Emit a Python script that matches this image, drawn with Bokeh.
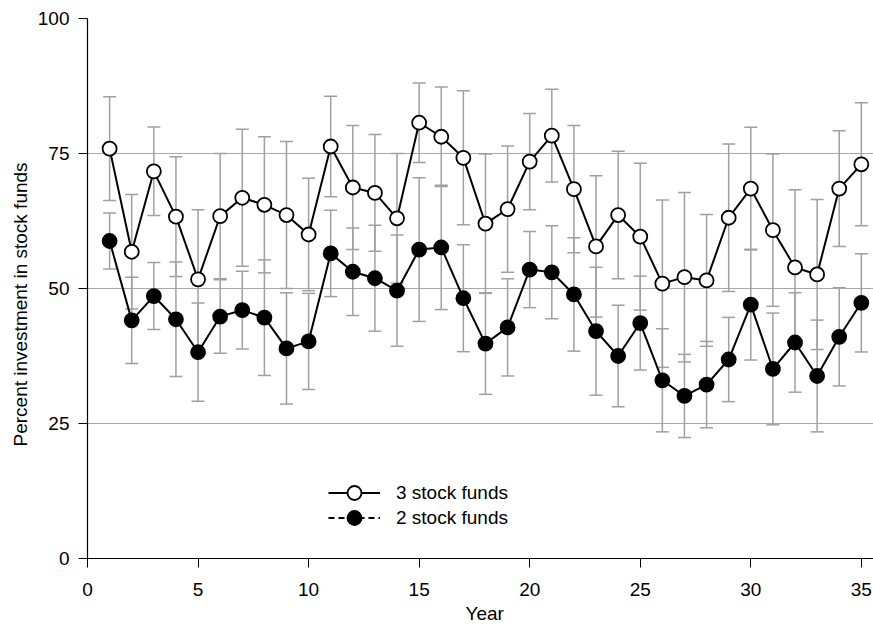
from bokeh.plotting import figure
from bokeh.models import (ColumnDataSource, Whisker, TeeHead, Range1d, FixedTicker,
                          Legend, LegendItem, Title)
from bokeh.embed import file_html
from bokeh.resources import INLINE

years = list(range(1, 36))
three_funds = [75.9, 56.8, 71.7, 63.3, 51.7, 63.4, 66.8, 65.5, 63.6, 60.0, 76.3, 68.7,
               67.7, 63.0, 80.7, 78.1, 74.2, 62.0, 64.7, 73.5, 78.3, 68.4, 57.8, 63.6,
               59.6, 50.9, 52.1, 51.5, 63.1, 68.5, 60.8, 53.9, 52.6, 68.5, 73.0]
three_err = [9.6, 10.6, 8.2, 11.1, 12.9, 11.6, 12.7, 12.6, 13.6, 10.4, 9.3, 11.5,
             10.8, 12.0, 7.35, 9.2, 12.4, 12.9, 11.7, 8.9, 8.6, 11.8, 13.1, 11.8,
             13.6, 15.5, 15.7, 12.2, 13.65, 11.35, 14.1, 14.4, 13.9, 10.7, 11.4]
two_funds = [58.8, 44.1, 48.6, 44.3, 38.2, 44.8, 46.0, 44.6, 38.9, 40.2, 56.5, 53.1,
             51.9, 49.6, 57.2, 57.6, 48.2, 39.8, 42.8, 53.5, 53.0, 48.9, 42.1, 37.5,
             43.6, 33.0, 30.1, 32.2, 36.85, 47.0, 35.1, 40.0, 33.8, 41.05, 47.35]
two_err = [5.2, 8.0, 6.2, 10.6, 9.1, 6.8, 7.2, 10.7, 10.3, 8.9, 8.0, 8.1,
           9.8, 10.3, 13.3, 11.5, 9.9, 9.4, 9.0, 7.05, 8.6, 10.5, 11.85, 9.4,
           8.7, 9.55, 7.7, 8.0, 7.8, 10.25, 10.35, 9.2, 10.35, 9.1, 9.1]
x_ticks = [0, 5, 10, 15, 20, 25, 30, 35]
y_ticks = [0, 25, 50, 75, 100]
grid_lines = [25, 50, 75]
labels = ["3 stock funds", "2 stock funds"]
x_title = "Year"
y_title = "Percent investment in stock funds"

FONT = "Liberation Sans"
FS = "19px"
ERR = "#a0a0a0"

src3 = ColumnDataSource(dict(x=years, y=three_funds,
                             lower=[v - e for v, e in zip(three_funds, three_err)],
                             upper=[v + e for v, e in zip(three_funds, three_err)]))
src2 = ColumnDataSource(dict(x=years, y=two_funds,
                             lower=[v - e for v, e in zip(two_funds, two_err)],
                             upper=[v + e for v, e in zip(two_funds, two_err)]))

p = figure(width=873, height=625, output_backend="svg", toolbar_location=None,
           x_range=Range1d(0, 35.55), y_range=Range1d(0, 100),
           min_border_left=87, min_border_right=0, min_border_top=18, min_border_bottom=67)
p.outline_line_color = None
p.background_fill_color = "white"

for src in (src3, src2):
    w = Whisker(base="x", upper="upper", lower="lower", source=src,
                line_color=ERR, line_width=1.5,
                upper_head=TeeHead(size=13, line_color=ERR, line_width=1.5),
                lower_head=TeeHead(size=13, line_color=ERR, line_width=1.5))
    p.add_layout(w)

l3 = p.line("x", "y", source=src3, line_color="black", line_width=2)
l2 = p.line("x", "y", source=src2, line_color="black", line_width=2)
m3 = p.scatter("x", "y", source=src3, size=14, fill_color="white", line_color="black", line_width=1.8)
m2 = p.scatter("x", "y", source=src2, size=14, fill_color="black", line_color="black", line_width=1.8)

# legend-only dashed line (drawn outside the visible ranges)
dash_src = ColumnDataSource(dict(x=[-20, -19], y=[-20, -20]))
ld = p.line("x", "y", source=dash_src, line_color="black", line_width=2, line_dash="6 4")

common = dict(glyph_width=52, glyph_height=35, label_height=35, spacing=0, padding=0,
              margin=0, label_standoff=16, border_line_color=None, background_fill_alpha=0,
              label_text_font=FONT, label_text_font_size=FS, label_text_color="black")
leg1 = Legend(items=[LegendItem(label=labels[0], renderers=[l3, m3])],
              location=(241, 48), **common)
leg2 = Legend(items=[LegendItem(label=labels[1], renderers=[ld, m2])],
              location=(241, 23), **common)
p.add_layout(leg1, "center")
p.add_layout(leg2, "center")

p.xgrid.grid_line_color = None
p.ygrid.ticker = FixedTicker(ticks=grid_lines)
p.ygrid.grid_line_color = "#a8a8a8"
p.ygrid.grid_line_width = 1

for ax in (p.xaxis[0], p.yaxis[0]):
    ax.axis_line_color = "black"
    ax.axis_line_width = 1.2
    ax.major_tick_line_color = "black"
    ax.major_tick_in = 0
    ax.major_tick_out = 9
    ax.minor_tick_line_color = None
    ax.major_label_text_font = FONT
    ax.major_label_text_font_size = FS
    ax.major_label_text_color = "black"

p.xaxis.ticker = FixedTicker(ticks=x_ticks)
p.yaxis.ticker = FixedTicker(ticks=y_ticks)
p.xaxis.major_label_standoff = 15
p.yaxis.major_label_standoff = 9

# axis titles as side titles so they can be offset like the reference
p.add_layout(Title(text=x_title, align="left", offset=378, standoff=4,
                   text_font=FONT, text_font_size=FS, text_font_style="normal",
                   text_color="black"), "below")
p.add_layout(Title(text=y_title, align="left", offset=112, standoff=8,
                   text_font=FONT, text_font_size=FS, text_font_style="normal",
                   text_color="black"), "left")

open("out.html", "w").write(file_html(p, INLINE))
